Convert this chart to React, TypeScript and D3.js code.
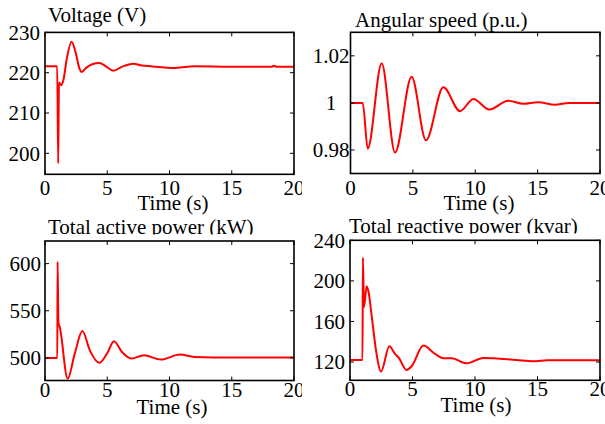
import React from "react";
import * as d3 from "d3";

const timeTicks = [0, 5, 10, 15, 20];

const voltageT = [0, 0.98, 1.06, 1.12, 1.2, 1.32, 1.5, 1.75, 2.14, 2.5, 2.75, 2.95, 3.3, 3.8, 4.36, 4.9, 5.49, 6.2, 7.1, 7.8, 8.5, 10.5, 12, 15, 18.2, 18.4, 18.6, 20];
const voltageV = [221.6, 221.6, 197.5, 217.6, 217.3, 216.9, 218.5, 223.5, 227.7, 224.5, 221.2, 220.2, 221.2, 222.1, 222.4, 221.6, 220.5, 221.5, 222.2, 221.8, 221.6, 221.2, 221.6, 221.5, 221.5, 221.7, 221.5, 221.5];
const voltageTicks = [200, 210, 220, 230];

const speedT = [0, 0.98, 1.38, 2.5, 3.57, 4.9, 6.05, 7.44, 8.78, 9.85, 11.13, 12.65, 13.85, 15.05, 16.4, 17.5, 20];
const speedV = [1, 1, 0.9806, 1.0168, 0.9789, 1.0111, 0.9841, 1.0066, 0.9965, 1.0017, 0.9972, 1.0009, 0.9996, 1.0003, 0.9992, 1.0, 1.0];
const speedTicks = [0.98, 1, 1.02];

const activeT = [0, 0.99, 1.01, 1.08, 1.18, 1.82, 2.4, 3.0, 3.6, 4.36, 5.0, 5.54, 6.2, 6.96, 7.95, 9.3, 10.84, 12, 15, 20];
const activeV = [500, 500, 602, 537, 533, 478, 505, 528.5, 508, 494.7, 505, 517.7, 506, 499.3, 502.8, 498.2, 503.5, 501, 500.3, 500.5];
const activeTicks = [500, 550, 600];

const reactiveT = [0, 1.0, 1.03, 1.12, 1.33, 1.5, 1.73, 2.1, 2.48, 3.15, 3.6, 3.87, 4.53, 4.93, 5.87, 6.8, 7.47, 8.13, 9.33, 10.67, 13.3, 14.67, 15.8, 20];
const reactiveV = [122, 122, 223, 174, 194.7, 188, 166, 130, 110.6, 135.5, 128, 124.7, 112.2, 115.8, 136.2, 128, 123.7, 123.7, 118.8, 124, 122, 120.7, 121.7, 121.7];
const reactiveTicks = [120, 160, 200, 240];

const FONT = "'Liberation Serif', 'Times New Roman', serif";
const FS = 21;

type PanelProps = {
  id: string;
  box: [number, number, number, number]; // left, right, top, bottom
  yDomain: [number, number];
  yTicks: number[];
  t: number[];
  v: number[];
  title: string;
  titleX: number;
  titleY: number;
  titleClipY?: number;
  yLabelX: number;
  yLabelAnchor: "end" | "middle";
  xLabelY: number;
  timeX: number;
  timeY: number;
  clipRight?: number;
  fmt?: (d: number) => string;
};

function Panel(p: PanelProps) {
  const [l, r, top, bot] = p.box;
  const x = d3.scaleLinear().domain([0, 20]).range([l, r]);
  const y = d3.scaleLinear().domain(p.yDomain).range([bot, top]);
  const line = d3
    .line<number>()
    .x((_, i) => x(p.t[i]))
    .y((d) => y(d))
    .curve(d3.curveMonotoneX);
  const tl = 4;
  const fmt = p.fmt || ((d: number) => String(d));
  const clipId = `clip-${p.id}`;
  const tclipId = `tclip-${p.id}`;
  return (
    <g clipPath={p.clipRight ? `url(#${clipId})` : undefined}>
      <defs>
        {p.clipRight && (
          <clipPath id={clipId}>
            <rect x={0} y={0} width={p.clipRight} height={424} />
          </clipPath>
        )}
        {p.titleClipY && (
          <clipPath id={tclipId}>
            <rect x={0} y={0} width={605} height={p.titleClipY} />
          </clipPath>
        )}
      </defs>
      <text
        x={p.titleX}
        y={p.titleY}
        fontFamily={FONT}
        fontSize={FS}
        fill="#000"
        clipPath={p.titleClipY ? `url(#${tclipId})` : undefined}
      >
        {p.title}
      </text>
      <path d={line(p.v) || ""} fill="none" stroke="#ff0000" strokeWidth={2} />
      <rect x={l} y={top} width={r - l} height={bot - top} fill="none" stroke="#000" strokeWidth={1.6} />
      {timeTicks.map((d) => (
        <g key={"xt" + d}>
          <line x1={x(d)} x2={x(d)} y1={bot} y2={bot - tl} stroke="#000" strokeWidth={1} />
          <line x1={x(d)} x2={x(d)} y1={top} y2={top + tl} stroke="#000" strokeWidth={1} />
          <text x={x(d)} y={p.xLabelY} textAnchor="middle" fontFamily={FONT} fontSize={FS} fill="#000">
            {d}
          </text>
        </g>
      ))}
      {p.yTicks.map((d) => (
        <g key={"yt" + d}>
          <line x1={l} x2={l + tl} y1={y(d)} y2={y(d)} stroke="#000" strokeWidth={1} />
          <line x1={r} x2={r - tl} y1={y(d)} y2={y(d)} stroke="#000" strokeWidth={1} />
          <text
            x={p.yLabelX}
            y={y(d)}
            dy="0.35em"
            textAnchor={p.yLabelAnchor}
            fontFamily={FONT}
            fontSize={FS}
            fill="#000"
          >
            {fmt(d)}
          </text>
        </g>
      ))}
      <text x={p.timeX} y={p.timeY} textAnchor="middle" fontFamily={FONT} fontSize={FS} fill="#000">
        Time (s)
      </text>
    </g>
  );
}

export default function App() {
  return (
    <svg width={605} height={424} style={{ position: "absolute", left: 0, top: 0, background: "#fff" }}>
      <rect x={0} y={0} width={605} height={424} fill="#fff" />
      <Panel
        id="v"
        box={[45, 294, 32.4, 174.3]}
        yDomain={[194.8, 230]}
        yTicks={voltageTicks}
        t={voltageT}
        v={voltageV}
        title="Voltage (V)"
        titleX={48}
        titleY={22}
        yLabelX={40}
        yLabelAnchor="end"
        xLabelY={195}
        timeX={173}
        timeY={210}
        clipRight={302}
      />
      <Panel
        id="w"
        box={[350.5, 600, 32.3, 173.5]}
        yDomain={[0.97, 1.03]}
        yTicks={speedTicks}
        t={speedT}
        v={speedV}
        title="Angular speed (p.u.)"
        titleX={355}
        titleY={26.5}
        yLabelX={331}
        yLabelAnchor="middle"
        xLabelY={195}
        timeX={479}
        timeY={210}
      />
      <Panel
        id="p"
        box={[45, 294, 241, 380.5]}
        yDomain={[476, 624]}
        yTicks={activeTicks}
        t={activeT}
        v={activeV}
        title="Total active power (kW)"
        titleX={48}
        titleY={234}
        titleClipY={234.5}
        yLabelX={41}
        yLabelAnchor="end"
        xLabelY={397}
        timeX={172}
        timeY={414}
        clipRight={302}
      />
      <Panel
        id="q"
        box={[350, 600, 240.3, 380.3]}
        yDomain={[102, 240]}
        yTicks={reactiveTicks}
        t={reactiveT}
        v={reactiveV}
        title="Total reactive power (kvar)"
        titleX={349}
        titleY={233}
        titleClipY={233.5}
        yLabelX={345}
        yLabelAnchor="end"
        xLabelY={396}
        timeX={476}
        timeY={412}
      />
    </svg>
  );
}
